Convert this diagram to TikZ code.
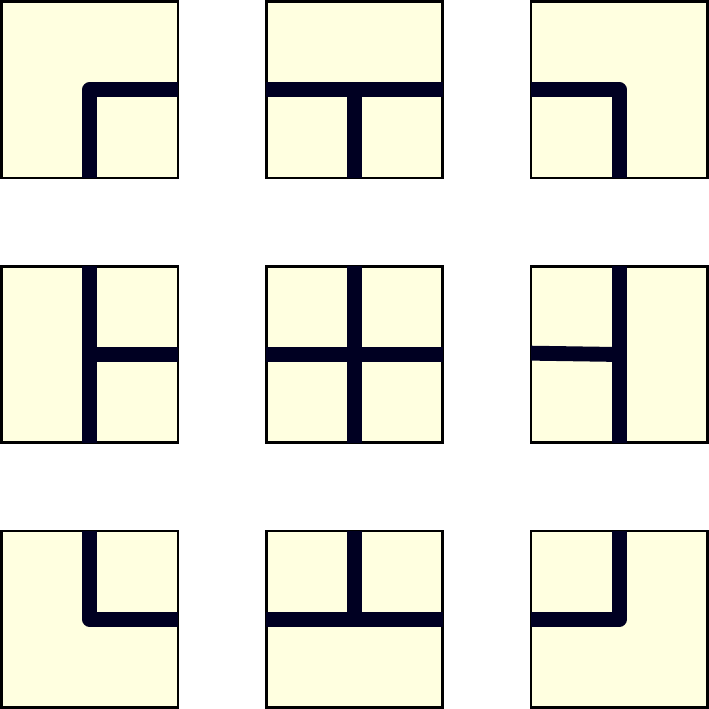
\documentclass[tikz,border=0pt]{standalone}
\definecolor{tilefill}{HTML}{FFFFE0}
\definecolor{wallcol}{HTML}{000022}
\begin{document}
\begin{tikzpicture}[tile/.style={draw=black, fill=tilefill, line width=0.9pt, minimum size=2cm, inner sep=0pt, outer sep=0pt}, wall/.style={draw=wallcol, line width=4.8pt, line join=round}]
\useasboundingbox (-0.016,-0.016) rectangle (8.016,8.016);
\node[tile] (a1) at (1,7) {};
\node[tile] (a2) at (4,7) {};
\node[tile] (a3) at (7,7) {};
\node[tile] (b1) at (1,4) {};
\node[tile] (b2) at (4,4) {};
\node[tile] (b3) at (7,4) {};
\node[tile] (c1) at (1,1) {};
\node[tile] (c2) at (4,1) {};
\node[tile] (c3) at (7,1) {};
% top row
\draw[wall] (a1.east) -- (a1.center) -- (a1.south);
\draw[wall] (a2.west) -- (a2.east);
\draw[wall] (a2.center) -- (a2.south);
\draw[wall] (a3.west) -- (a3.center) -- (a3.south);
% middle row
\draw[wall] (b1.north) -- (b1.south);
\draw[wall] (b1.center) -- (b1.east);
\draw[wall] (b2.north) -- (b2.south);
\draw[wall] (b2.west) -- (b2.east);
\draw[wall] (b3.north) -- (b3.south);
\draw[wall] ([yshift=0.015cm]b3.west) -- (b3.center);
% bottom row
\draw[wall] (c1.north) -- (c1.center) -- (c1.east);
\draw[wall] (c2.west) -- (c2.east);
\draw[wall] (c2.center) -- (c2.north);
\draw[wall] (c3.north) -- (c3.center) -- (c3.west);
\end{tikzpicture}
\end{document}
